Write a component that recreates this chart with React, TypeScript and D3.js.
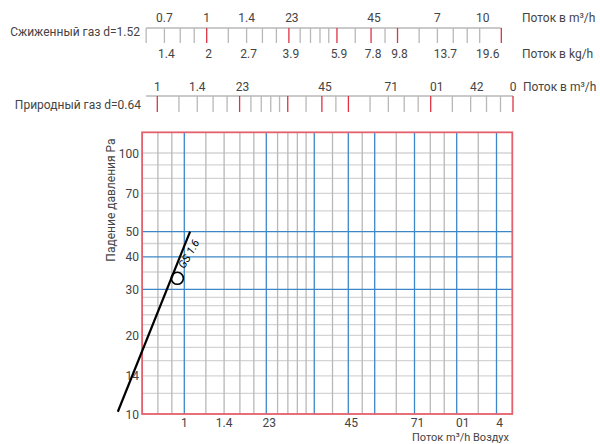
import * as d3 from 'd3';

// LPG scale (m3/h) and matching kg/h labels
const lpgTicks = [0.6, 0.7, 0.8, 0.9, 1, 1.2, 1.4, 1.6, 1.8, 2, 2.2, 2.4, 2.6, 2.8, 3, 3.5, 4, 4.5, 5, 6, 7, 8, 9, 10, 12];
const lpgRed = [1, 2, 3, 4, 5, 12];
const lpgTopLabels: [number, string][] = [[0.7, '0.7'], [1, '1'], [1.4, '1.4'], [2, '23'], [4, '45'], [7, '7'], [10, '10']];
const lpgKgLabels: [number, string][] = [[0.7, '1.4'], [1, '2'], [1.4, '2.7'], [2, '3.9'], [3, '5.9'], [4, '7.8'], [5, '9.8'], [7, '13.7'], [10, '19.6']];

// natural gas scale (m3/h)
const ngTicks = [1, 1.2, 1.4, 1.6, 1.8, 2, 2.2, 2.4, 2.6, 2.8, 3, 3.5, 4, 4.5, 5, 6, 7, 8, 9, 10, 12, 14, 16, 18, 20];
const ngRed = [1, 2, 3, 4, 5, 10, 20];
const ngLabels: [number, string][] = [[1, '1'], [1.4, '1.4'], [2, '23'], [4, '45'], [7, '71'], [10, '01'], [14, '42'], [20, '0']];

// main chart grid (air flow m3/h vs pressure drop Pa)
const xBlue = [1, 2, 3, 4, 5, 7, 10, 14];
const xGray = [0.8, 0.9, 1.2, 1.4, 1.6, 1.8, 2.2, 2.4, 2.6, 2.8, 3.5, 4.5, 6, 8, 9, 12];
const xLabels: [number, string][] = [[1, '1'], [1.4, '1.4'], [2, '23'], [4, '45'], [7, '71'], [10, '01'], [14, '4']];
const yBlue = [30, 40, 50];
const yGray = [12, 14, 16, 18, 20, 22, 24, 26, 28, 35, 45, 60, 70, 80, 90, 100];
const yLabels = [10, 14, 20, 30, 40, 50, 70, 100];

// valve curve
const curveFlow = [0.57, 1.05];
const curveDp = [10.2, 50];
const markerFlow = 0.943;
const markerDp = 33.1;

const FONT = 'Roboto, "DejaVu Sans", sans-serif';
const TXT = '#444';
const GRAY = '#b8b8b8';
const RED = '#dd3344';
const BLUE = '#3d87c9';

const labelDx = (s: string) => (s.length === 2 && !s.includes('.') ? 3 : 0);

export default function App() {
  const lpgX = d3.scaleLog().domain([1, 10]).range([206.7, 479.7]);
  const ngX = d3.scaleLog().domain([1, 10]).range([157.3, 430.7]);
  const x = d3.scaleLog().domain([1, 10]).range([184.3, 456.7]);
  const y = d3.scaleLog().domain([10, 100]).range([414, 153]);

  const x0 = x(0.7), x1 = x(16);
  const y0 = y(10), y1 = y(120);

  const line = d3
    .line<number>()
    .x((d) => x(curveFlow[d]))
    .y((d) => y(curveDp[d]));

  const p0 = [x(curveFlow[0]), y(curveDp[0])];
  const p1 = [x(curveFlow[1]), y(curveDp[1])];
  const angle = (Math.atan2(p1[1] - p0[1], p1[0] - p0[0]) * 180) / Math.PI;
  const mx = x(markerFlow), my = y(markerDp);

  return (
    <svg width={600} height={444} style={{ position: 'absolute', left: 0, top: 0 }} fontFamily={FONT}>
      <rect width={600} height={444} fill="#fff" />

      {/* LPG scale */}
      <text x={140} y={36} textAnchor="end" fontSize={12} fill={TXT}>Сжиженный газ d=1.52</text>
      <line x1={lpgX(0.6)} x2={lpgX(12)} y1={28} y2={28} stroke={GRAY} strokeWidth={1.3} />
      {lpgTicks.map((t) => (
        <line key={'lt' + t} x1={lpgX(t)} x2={lpgX(t)} y1={28} y2={43} stroke={lpgRed.includes(t) ? RED : GRAY} strokeWidth={1.3} />
      ))}
      {lpgTopLabels.map(([v, s]) => (
        <text key={'ll' + v} x={lpgX(v) + labelDx(s)} y={22} textAnchor="middle" fontSize={12} fill={TXT}>{s}</text>
      ))}
      {lpgKgLabels.map(([v, s]) => (
        <text key={'lk' + v} x={lpgX(v) + (s.length > 3 ? 8 : 2)} y={58} textAnchor="middle" fontSize={12} fill={TXT}>{s}</text>
      ))}
      <text x={522} y={22} fontSize={12} fill={TXT}>Поток в m³/h</text>
      <text x={522} y={58} fontSize={12} fill={TXT}>Поток в kg/h</text>

      {/* natural gas scale */}
      <text x={141} y={109} textAnchor="end" fontSize={12} fill={TXT}>Природный газ d=0.64</text>
      <line x1={146} x2={ngX(20)} y1={96} y2={96} stroke={GRAY} strokeWidth={1.3} />
      {ngTicks.map((t) => (
        <line key={'nt' + t} x1={ngX(t)} x2={ngX(t)} y1={96} y2={112} stroke={ngRed.includes(t) ? RED : GRAY} strokeWidth={1.3} />
      ))}
      {ngLabels.map(([v, s]) => (
        <text key={'nl' + v} x={ngX(v) + labelDx(s) + (v >= 10 && v < 20 ? 3 : 0)} y={91} textAnchor="middle" fontSize={12} fill={TXT}>{s}</text>
      ))}
      <text x={523} y={91} fontSize={12} fill={TXT}>Поток в m³/h</text>

      {/* grid */}
      {yGray.map((v) => (
        <line key={'yg' + v} x1={x0} x2={x1} y1={y(v)} y2={y(v)} stroke="#d4d4d4" strokeWidth={1.3} />
      ))}
      {xGray.map((v) => (
        <line key={'xg' + v} x1={x(v)} x2={x(v)} y1={y0} y2={y1} stroke={GRAY} strokeWidth={1.3} />
      ))}
      {yBlue.map((v) => (
        <line key={'yb' + v} x1={x0} x2={x1} y1={y(v)} y2={y(v)} stroke={BLUE} strokeWidth={1.3} />
      ))}
      {xBlue.map((v) => (
        <line key={'xb' + v} x1={x(v)} x2={x(v)} y1={y0} y2={y1} stroke={BLUE} strokeWidth={1.3} />
      ))}
      <rect x={x0} y={y1} width={x1 - x0} height={y0 - y1} fill="none" stroke="#e4606c" strokeWidth={1.8} />

      {/* axes labels */}
      {yLabels.map((v) => (
        <text key={'yl' + v} x={139} y={y(v) + 4.5} textAnchor="end" fontSize={12} fill={TXT}>{v}</text>
      ))}
      {xLabels.map(([v, s]) => (
        <text key={'xl' + v} x={x(v) + labelDx(s) + (v >= 10 ? 3 : 0)} y={427} textAnchor="middle" fontSize={12} fill={TXT}>{s}</text>
      ))}
      <text x={115} y={200} transform="rotate(-90 115 200)" textAnchor="middle" fontSize={12} fill={TXT}>Падение давления  Pa</text>
      <text x={412} y={441} fontSize={11} fill={TXT}>Поток  m³/h Воздух</text>

      {/* curve */}
      <path d={line([0, 1]) ?? ''} fill="none" stroke="#000" strokeWidth={2.2} />
      <circle cx={mx} cy={my} r={6} fill="none" stroke="#000" strokeWidth={1.6} />
      <text
        x={mx + 7}
        y={my - 9}
        transform={`rotate(${angle + 8} ${mx + 7} ${my - 9})`}
        fontSize={11}
        fontStyle="italic"
        fill="#000"
      >
        GS 1.6
      </text>
    </svg>
  );
}
